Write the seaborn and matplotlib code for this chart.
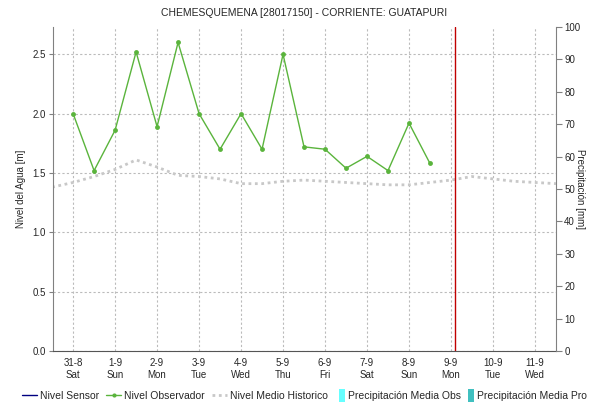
import numpy as np
import pandas as pd
import matplotlib
matplotlib.use('Agg')
import matplotlib.pyplot as plt
import matplotlib.dates as mdates
from matplotlib.lines import Line2D
from matplotlib.patches import Patch, Rectangle
from matplotlib.legend_handler import HandlerPatch
import seaborn as sns

# Data
obs_start = '2019-08-31 00:00'
obs_level = [2.00, 1.52, 1.86, 2.52, 1.89, 2.60, 2.00, 1.70, 2.00, 1.70,
             2.50, 1.72, 1.70, 1.54, 1.64, 1.52, 1.92, 1.58]

hist_start = '2019-08-30 12:00'
hist_level = [1.38, 1.42, 1.47, 1.53, 1.61, 1.55, 1.48, 1.47, 1.45, 1.41,
              1.41, 1.43, 1.44, 1.43, 1.42, 1.41, 1.40, 1.40, 1.42, 1.44,
              1.47, 1.45, 1.43, 1.42, 1.41]

now_mark = pd.Timestamp('2019-09-09 02:30')
x_min = pd.Timestamp('2019-08-30 12:30')
x_max = pd.Timestamp('2019-09-11 12:00')

title = 'CHEMESQUEMENA [28017150] - CORRIENTE: GUATAPURI'

obs = pd.DataFrame({'fecha': pd.date_range(obs_start, periods=len(obs_level), freq='12h'),
                    'nivel': obs_level})
hist = pd.DataFrame({'fecha': pd.date_range(hist_start, periods=len(hist_level), freq='12h'),
                     'nivel': hist_level})

sns.set_style('white')
plt.rcParams['font.family'] = ['Liberation Sans', 'DejaVu Sans']

green = '#5AB43C'
grey_hist = '#C8C8C8'

fig = plt.figure(figsize=(5.9, 4.04), dpi=100)
ax = fig.add_axes([0.0898, 0.1312, 0.8525, 0.802])

sns.lineplot(data=hist, x='fecha', y='nivel', ax=ax, color=grey_hist,
             linewidth=2, linestyle=(0, (1, 1.3)), zorder=2)
sns.lineplot(data=obs, x='fecha', y='nivel', ax=ax, color=green,
             linewidth=1, marker='o', markersize=3.5, markeredgewidth=0, zorder=3)
ax.axvline(now_mark, color='#C00000', linewidth=1, zorder=4)

ax.set_xlim(x_min, x_max)
ax.set_ylim(0, 2.73)
ax.set_yticks(np.arange(0, 2.51, 0.5))
ax.yaxis.set_major_formatter(matplotlib.ticker.FormatStrFormatter('%.1f'))
ax.xaxis.set_major_locator(mdates.DayLocator())
ax.xaxis.set_major_formatter(mdates.DateFormatter('%-d-%-m\n%a'))
ax.grid(True, color='#BBBBBB', linestyle=(0, (2, 2)), linewidth=0.8)
ax.set_xlabel('')
ax.set_ylabel('Nivel del Agua [m]', fontsize=7, labelpad=5)
ax.tick_params(axis='x', length=0, labelsize=7, pad=5)
ax.tick_params(axis='y', length=3, width=0.8, color='#808080', labelsize=7, pad=2, left=True)
ax.set_title(title, fontsize=7.5, pad=8)

for s in ['top', 'right']:
    ax.spines[s].set_visible(False)
ax.spines['left'].set_color('#808080')
ax.spines['bottom'].set_color('#555555')
ax.spines['bottom'].set_linestyle((0, (1, 1)))

ax2 = ax.twinx()
ax2.set_ylim(0, 100)
ax2.set_yticks(np.arange(0, 101, 10))
ax2.set_ylabel('Precipitación [mm]', fontsize=7, rotation=270, labelpad=3.5)
ax2.tick_params(axis='y', length=4, width=0.8, color='#808080', labelsize=7, pad=2, right=True)
for s in ['top', 'left', 'bottom']:
    ax2.spines[s].set_visible(False)
ax2.spines['right'].set_color('#808080')
ax2.grid(False)


def tall_box(legend, orig_handle, xdescent, ydescent, width, height, fontsize):
    h = 1.25 * fontsize
    return Rectangle((-xdescent, -ydescent + height / 2 - h / 2), width, h)


line_handles = [
    Line2D([], [], color='#000080', linewidth=1),
    Line2D([], [], color=green, linewidth=1, marker='o', markersize=3, markeredgewidth=0),
    Line2D([], [], color=grey_hist, linewidth=2, linestyle=(0, (1, 1.3))),
]
line_labels = ['Nivel Sensor', 'Nivel Observador', 'Nivel Medio Historico']
box_handles = [
    Patch(facecolor='#66FFFF', edgecolor='none'),
    Patch(facecolor='#40C0C0', edgecolor='none'),
]
box_labels = ['Precipitación Media Obs', 'Precipitación Media Pro']

leg1 = fig.legend(line_handles, line_labels, loc='lower left', bbox_to_anchor=(0.037, 0.008),
                  ncol=3, frameon=False, fontsize=7.5, handlelength=1.44, handletextpad=0.3,
                  columnspacing=0.67, borderpad=0, borderaxespad=0)
leg2 = fig.legend(box_handles, box_labels, loc='lower left', bbox_to_anchor=(0.5746, 0.008),
                  ncol=2, frameon=False, fontsize=7.5, handlelength=0.58, handletextpad=0.29,
                  columnspacing=0.67, borderpad=0, borderaxespad=0,
                  handler_map={Patch: HandlerPatch(patch_func=tall_box)})

fig.savefig('out.png', dpi=100)
